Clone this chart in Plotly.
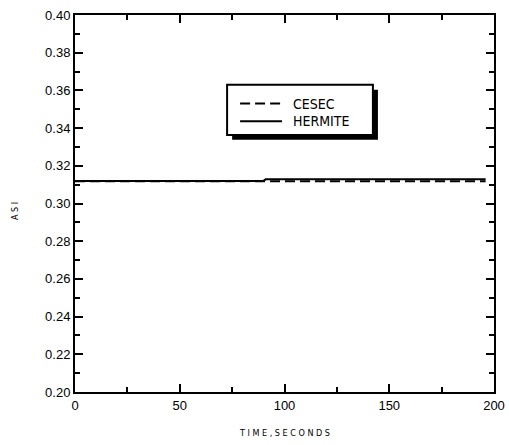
import plotly.graph_objects as go

# Series data
time_cesec = [0, 196]
asi_cesec = [0.3118, 0.3118]

time_hermite = [0, 90, 91, 196]
asi_hermite = [0.3120, 0.3120, 0.3128, 0.3128]

x_ticks = [0, 50, 100, 150, 200]
y_ticks = [0.20, 0.22, 0.24, 0.26, 0.28, 0.30, 0.32, 0.34, 0.36, 0.38, 0.40]
legend_names = ["CESEC", "HERMITE"]

fig = go.Figure()
fig.add_trace(go.Scatter(x=time_hermite, y=asi_hermite, mode="lines",
                         line=dict(color="black", width=2), name=legend_names[1],
                         showlegend=False))
fig.add_trace(go.Scatter(x=time_cesec, y=asi_cesec, mode="lines",
                         line=dict(color="black", width=2, dash="10px,5px"),
                         name=legend_names[0], showlegend=False))

axis_common = dict(
    showgrid=False, zeroline=False, showline=True, linecolor="black", linewidth=2,
    mirror="allticks", ticks="inside", ticklen=8, tickwidth=1.5, tickcolor="black",
    automargin=False,
    tickfont=dict(family="Liberation Sans, Arial", size=13, color="black"),
)

fig.update_xaxes(range=[0, 200], tickvals=x_ticks, ticktext=[str(v) for v in x_ticks],
                 minor=dict(ticks="inside", ticklen=5, dtick=25, tick0=0, tickcolor="black", tickwidth=1.5),
                 **axis_common)
fig.update_yaxes(range=[0.20, 0.40], tickvals=y_ticks, ticktext=[f"{v:.2f}" for v in y_ticks],
                 minor=dict(ticks="inside", ticklen=5, dtick=0.01, tick0=0.2, tickcolor="black", tickwidth=1.5),
                 **axis_common)

narrow = "DejaVu Sans Condensed, Liberation Sans Narrow, Liberation Sans"

# Axis titles
fig.add_annotation(text="T I M E , S E C O N D S", xref="paper", yref="paper",
                   x=0.5, y=0, yshift=-34, xanchor="center", yanchor="top", showarrow=False,
                   font=dict(family=narrow, size=9, color="black"))
fig.add_annotation(text="A S I", xref="paper", yref="paper", textangle=-90,
                   x=0, xshift=-60, y=0.48, xanchor="center", yanchor="middle", showarrow=False,
                   font=dict(family=narrow, size=9, color="black"))

# Legend box with drop shadow
bx0, bx1, by0, by1 = 0.363, 0.711, 0.682, 0.815
sh = 0.012
fig.add_shape(type="rect", xref="paper", yref="paper",
              x0=bx0 + sh, x1=bx1 + sh, y0=by0 - sh * 1.1, y1=by1 - sh * 1.1,
              fillcolor="black", line=dict(color="black", width=0), layer="above")
fig.add_shape(type="rect", xref="paper", yref="paper",
              x0=bx0, x1=bx1, y0=by0, y1=by1,
              fillcolor="white", line=dict(color="black", width=2), layer="above")
legend_rows = [(0.765, "10px,5px"), (0.718, "solid")]
for (ly, dash), name in zip(legend_rows, legend_names):
    fig.add_shape(type="line", xref="paper", yref="paper", x0=0.394, x1=0.494, y0=ly, y1=ly,
                  line=dict(color="black", width=2, dash=dash), layer="above")
    fig.add_annotation(text=name, xref="paper", yref="paper", x=0.515, y=ly,
                       xanchor="left", yanchor="middle", showarrow=False,
                       font=dict(family=narrow, size=14, color="black"))

fig.update_layout(
    width=509, height=445,
    margin=dict(l=75, r=15, t=15, b=53),
    plot_bgcolor="white", paper_bgcolor="white",
    showlegend=False,
)

fig.write_html("out.html")
